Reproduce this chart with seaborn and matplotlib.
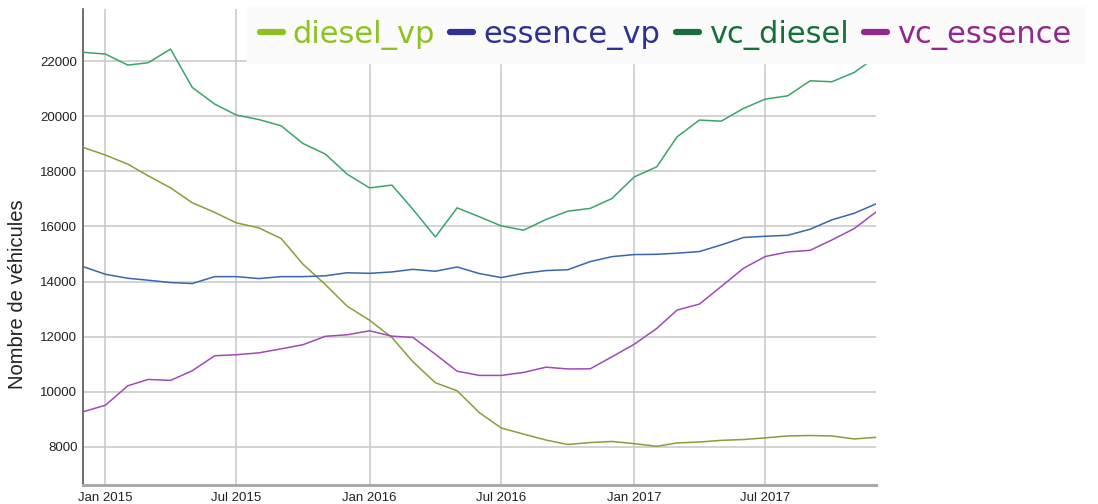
import numpy as np
import pandas as pd
import matplotlib
matplotlib.use("Agg")
import matplotlib.pyplot as plt
from matplotlib.lines import Line2D
import seaborn as sns

months = pd.date_range("2014-12-01", "2017-12-01", freq="MS")

diesel_vp = [18870, 18590, 18260, 17840, 17400, 16860, 16510, 16130, 15950, 15560,
             14630, 13890, 13110, 12600, 11970, 11090, 10330, 10040, 9240, 8690,
             8465, 8250, 8090, 8160, 8200, 8120, 8025, 8145, 8180, 8240, 8270,
             8330, 8400, 8415, 8400, 8290, 8350]
essence_vp = [14545, 14265, 14120, 14050, 13965, 13930, 14180, 14180, 14110, 14180,
              14180, 14210, 14320, 14300, 14350, 14445, 14375, 14530, 14290, 14145,
              14300, 14400, 14430, 14725, 14905, 14980, 14990, 15030, 15090, 15330,
              15600, 15645, 15680, 15900, 16240, 16480, 16820]
vc_diesel = [22320, 22255, 21855, 21940, 22435, 21045, 20440, 20040, 19880, 19650,
             19010, 18625, 17900, 17400, 17500, 16620, 15620, 16675, 16350, 16020,
             15865, 16255, 16555, 16655, 17015, 17800, 18165, 19250, 19860, 19820,
             20285, 20620, 20740, 21285, 21250, 21590, 22150]
vc_essence = [9275, 9515, 10220, 10450, 10415, 10765, 11310, 11345, 11415, 11560,
              11710, 12015, 12070, 12215, 12020, 11975, 11365, 10750, 10595, 10595,
              10705, 10895, 10830, 10835, 11270, 11730, 12300, 12965, 13185, 13820,
              14485, 14910, 15075, 15135, 15510, 15925, 16525]

series_names = ["diesel_vp", "essence_vp", "vc_diesel", "vc_essence"]
line_colors = ["#8c9c3a", "#3a66ad", "#3ca36a", "#a04ab8"]
legend_colors = ["#8cc320", "#2e3192", "#17703a", "#93278f"]
y_ticks = [8000, 10000, 12000, 14000, 16000, 18000, 20000, 22000]
x_tick_dates = ["2015-01-01", "2015-07-01", "2016-01-01", "2016-07-01", "2017-01-01", "2017-07-01"]
x_tick_labels = ["Jan 2015", "Jul 2015", "Jan 2016", "Jul 2016", "Jan 2017", "Jul 2017"]

df = pd.DataFrame({"date": months, "diesel_vp": diesel_vp, "essence_vp": essence_vp,
                   "vc_diesel": vc_diesel, "vc_essence": vc_essence})
long = df.melt(id_vars="date", var_name="series", value_name="value")

sns.set_theme(style="white")
plt.rcParams["font.family"] = ["Liberation Sans", "DejaVu Sans"]

fig = plt.figure(figsize=(10.98, 5.04), dpi=100)
ax = fig.add_axes([83 / 1098, 1 - 485 / 504, (876 - 83) / 1098, (485 - 9) / 504])

sns.lineplot(data=long, x="date", y="value", hue="series", hue_order=series_names,
             palette=dict(zip(series_names, line_colors)), linewidth=1.1,
             legend=False, ax=ax, zorder=3)

ax.set_xlim(pd.Timestamp("2014-12-01"), pd.Timestamp("2017-12-01"))
ax.set_ylim(6620, 23890)
ax.set_yticks(y_ticks)
ax.set_yticklabels([str(v) for v in y_ticks], fontsize=9.5, color="#222222")
ax.set_xticks([pd.Timestamp(d) for d in x_tick_dates])
ax.set_xticklabels(x_tick_labels, fontsize=9.5, color="#222222")
ax.tick_params(axis="both", length=0, pad=4)
ax.tick_params(axis="x", pad=5)

ax.grid(True, color="#c8c8c8", linewidth=1.1, zorder=0)
ax.set_axisbelow(True)
for s in ["top", "right"]:
    ax.spines[s].set_visible(False)
ax.spines["left"].set_color("#555555")
ax.spines["left"].set_linewidth(1.2)
ax.spines["bottom"].set_color("#aaaaaa")
ax.spines["bottom"].set_linewidth(2.2)

ax.set_xlabel("")
ax.set_ylabel("Nombre de véhicules", fontsize=14.5, color="#222222")
ax.yaxis.set_label_coords(-0.0706, 0.40)

handles = [Line2D([0], [0], color=c, linewidth=4.5, solid_capstyle="round") for c in legend_colors]
leg = fig.legend(handles, series_names, loc="upper left",
                 bbox_to_anchor=(247 / 1098, 1 - 7 / 504), ncol=4,
                 frameon=True, fancybox=False, framealpha=1,
                 handlelength=0.75, handletextpad=0.33, columnspacing=0.5,
                 borderpad=0.42, borderaxespad=0,
                 prop={"family": "DejaVu Sans", "size": 22})
leg.get_frame().set_facecolor("#fbfbfb")
leg.get_frame().set_edgecolor("#fbfbfb")
for t, c in zip(leg.get_texts(), legend_colors):
    t.set_color(c)

fig.savefig("out.png", dpi=100)
